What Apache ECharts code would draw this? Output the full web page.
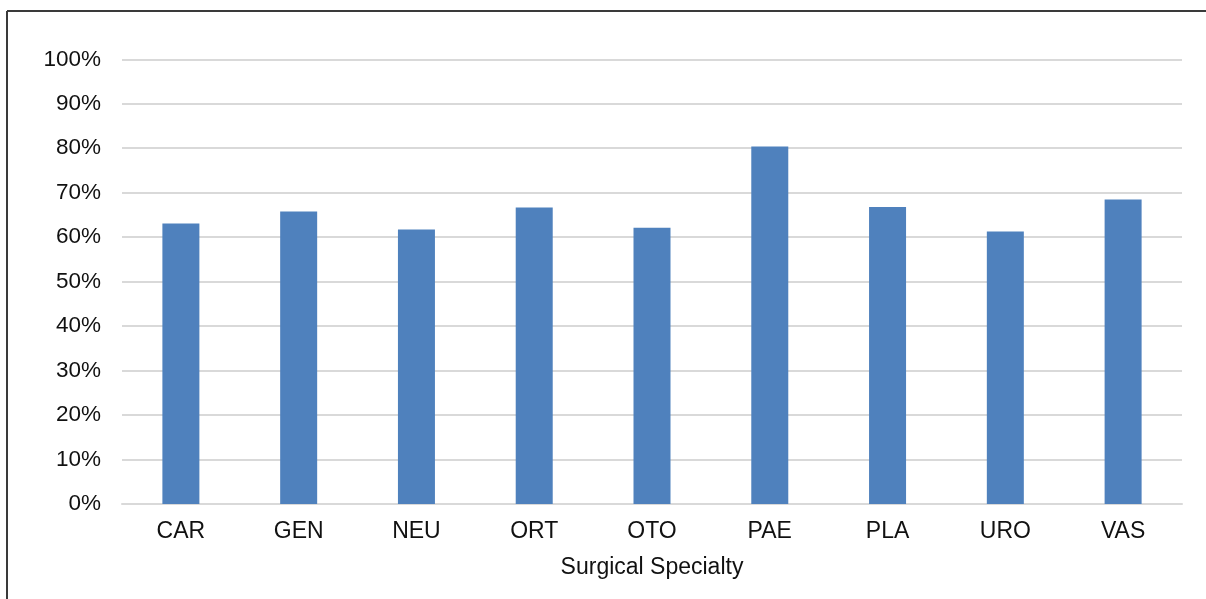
<!DOCTYPE html>
<html>
<head>
<meta charset="utf-8">
<script src="https://cdn.jsdelivr.net/npm/echarts@6/dist/echarts.min.js"></script>
<style>
  html, body { margin: 0; padding: 0; background: #ffffff; }
  #chart { width: 1206px; height: 599px; }
</style>
</head>
<body>
<div id="chart"></div>
<script>
// Share of cases by surgical specialty
const specialties = ['CAR', 'GEN', 'NEU', 'ORT', 'OTO', 'PAE', 'PLA', 'URO', 'VAS'];
const shareValues = [63.1, 65.8, 61.7, 66.7, 62.1, 80.4, 66.8, 61.3, 68.5];
const xAxisTitle = 'Surgical Specialty';

const FONT = '"Liberation Sans", Arial, sans-serif';

const chart = echarts.init(document.getElementById('chart'), null, { renderer: 'canvas' });

chart.setOption({
  backgroundColor: '#ffffff',
  animation: false,
  graphic: [
    // frame lines along the top and left edge
    { type: 'line', shape: { x1: 7, y1: 11, x2: 1206, y2: 11 }, style: { stroke: '#3a3a3a', lineWidth: 2 } },
    { type: 'line', shape: { x1: 7, y1: 11, x2: 7, y2: 599 }, style: { stroke: '#3a3a3a', lineWidth: 2 } }
  ],
  grid: { left: 122, right: 24, top: 59.3, bottom: 95, containLabel: false },
  xAxis: {
    type: 'category',
    data: specialties,
    name: xAxisTitle,
    nameLocation: 'middle',
    nameGap: 52,
    nameTextStyle: { fontFamily: FONT, fontSize: 23, color: '#111111' },
    axisLine: { show: true, lineStyle: { color: '#d9d9d9', width: 2 } },
    axisTick: { show: false },
    axisLabel: { fontFamily: FONT, fontSize: 23, color: '#111111', margin: 16 }
  },
  yAxis: {
    type: 'value',
    min: 0,
    max: 100,
    interval: 10,
    axisLine: { show: false },
    axisTick: { show: false },
    axisLabel: { fontFamily: FONT, fontSize: 22.5, color: '#111111', margin: 21, formatter: '{value}%' },
    splitLine: { lineStyle: { color: '#d9d9d9', width: 2 } }
  },
  series: [{
    type: 'bar',
    data: shareValues,
    barWidth: 37,
    itemStyle: { color: '#4f81bd' }
  }]
});
</script>
</body>
</html>
